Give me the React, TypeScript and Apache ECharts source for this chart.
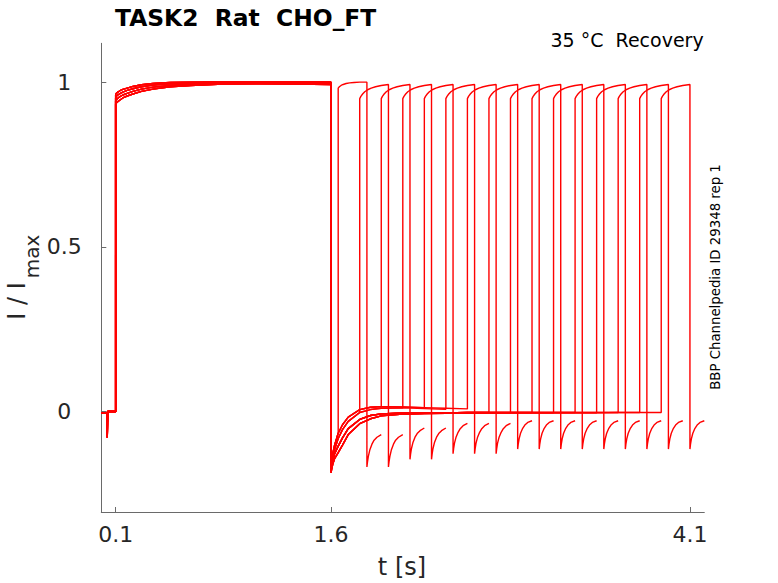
import React, { useEffect, useRef } from "react";
import * as echarts from "echarts";

// ---- axis ticks ----
const xTicks = [0.1, 1.6, 4.1];
const yTicks = [0, 0.5, 1];

// ---- protocol timing ----
const pulseStarts = [1.65, 1.8, 1.95, 2.1, 2.25, 2.4, 2.55, 2.7, 2.85, 3.0, 3.15, 3.3, 3.45, 3.6, 3.75, 3.9];
const stepOff = 1.6;

// ---- pre-pulse segment (0 .. 0.1 s), two slightly shifted spikes ----
const preTA = [0, 0.039, 0.0395, 0.0435, 0.1];
const preTB = [0, 0.041, 0.0415, 0.0455, 0.1];
const preV = [-0.004, -0.004, -0.078, 0.0, 0.0];

// ---- activation segment (0.1 .. 1.6 s) ----
const actT = [0.1, 0.105, 0.115, 0.13, 0.15, 0.18, 0.22, 0.28, 0.36, 0.48, 0.62, 0.85, 1.1, 1.35, 1.6];
const actA = [0.963, 0.966, 0.97, 0.974, 0.978, 0.982, 0.987, 0.992, 0.996, 0.999, 1.0, 1.001, 1.001, 1.001, 1.0];
const actB = [0.954, 0.957, 0.961, 0.965, 0.97, 0.975, 0.98, 0.986, 0.991, 0.995, 0.998, 1.0, 1.0, 1.0, 0.999];
const actC = [0.944, 0.947, 0.951, 0.956, 0.961, 0.966, 0.972, 0.979, 0.985, 0.99, 0.994, 0.997, 0.998, 0.997, 0.996];
const actD = [0.934, 0.937, 0.941, 0.946, 0.952, 0.958, 0.964, 0.972, 0.979, 0.986, 0.99, 0.994, 0.995, 0.994, 0.993];

// ---- tail after 1.6 s (offsets from 1.6 s) ----
const tailT = [0, 0.004, 0.012, 0.025, 0.05, 0.08, 0.12, 0.2, 0.275, 0.35, 0.5, 0.65, 0.8, 0.95, 1.1, 1.25, 1.4, 1.55, 1.7, 1.85, 2.0, 2.15, 2.3];
const tailA = [-0.165, -0.15, -0.128, -0.102, -0.066, -0.04, -0.017, 0.006, 0.013, 0.015, 0.014, 0.012, 0.01, 0.008, 0.006, 0.004, 0.003, 0.002, 0.001, 0.0, -0.001, -0.002, -0.002];
const tailB = [-0.172, -0.159, -0.138, -0.115, -0.082, -0.055, -0.03, -0.003, 0.006, 0.01, 0.011, 0.009, 0.007, 0.005, 0.004, 0.002, 0.001, 0.0, -0.001, -0.001, -0.002, -0.002, -0.003];
const tailC = [-0.178, -0.167, -0.149, -0.128, -0.105, -0.08, -0.052, -0.024, -0.012, -0.007, -0.004, -0.004, -0.004, -0.003, -0.003, -0.003, -0.003, -0.003, -0.003, -0.003, -0.003, -0.003, -0.003];
const tailD = [-0.186, -0.176, -0.16, -0.143, -0.125, -0.102, -0.07, -0.037, -0.022, -0.013, -0.008, -0.006, -0.005, -0.005, -0.004, -0.004, -0.004, -0.004, -0.004, -0.004, -0.003, -0.003, -0.003];

// ---- test pulse (offsets from pulse start) ----
const pulseT = [0, 0.008, 0.02, 0.035, 0.055, 0.08, 0.11, 0.15, 0.2];
const pulseFirst = [0.982, 0.986, 0.99, 0.993, 0.996, 0.998, 0.999, 1.0, 1.0];
const pulseLater = [0.95, 0.957, 0.964, 0.971, 0.977, 0.982, 0.986, 0.99, 0.993];

// ---- hook after test pulse (offsets from pulse start) ----
const hookT = [0.2, 0.204, 0.21, 0.22, 0.235, 0.25, 0.27, 0.3];
const hook0 = [-0.168, -0.153, -0.136, -0.117, -0.099, -0.087, -0.078, -0.07];
const hook1 = [-0.145, -0.13, -0.113, -0.095, -0.078, -0.067, -0.058, -0.05];
const hook2 = [-0.128, -0.113, -0.096, -0.079, -0.063, -0.052, -0.043, -0.036];
const hook3 = [-0.114, -0.099, -0.083, -0.066, -0.051, -0.041, -0.033, -0.028];

// ---- which curve each sweep follows ----
const preIdx = [0, 1, 0, 1, 0, 1, 0, 1, 0, 1, 0, 1, 0, 1, 0, 1];
const actIdx = [0, 2, 1, 3, 0, 2, 1, 3, 0, 2, 1, 3, 0, 2, 1, 3];
const tailIdx = [0, 1, 0, 1, 0, 1, 0, 2, 3, 2, 3, 2, 3, 2, 3, 2];
const pulseIdx = [0, 1, 1, 1, 1, 1, 1, 1, 1, 1, 1, 1, 1, 1, 1, 1];
const hookIdx = [0, 0, 1, 1, 2, 2, 2, 3, 3, 3, 3, 3, 3, 3, 3, 3];

const preSets = [preTA, preTB];
const actSets = [actA, actB, actC, actD];
const tailSets = [tailA, tailB, tailC, tailD];
const pulseSets = [pulseFirst, pulseLater];
const hookSets = [hook0, hook1, hook2, hook3];

function buildSweep(k: number): number[][] {
  const pts: number[][] = [];
  preSets[preIdx[k]].forEach((t, i) => pts.push([t, preV[i]]));
  const act = actSets[actIdx[k]];
  actT.forEach((t, i) => pts.push([t, act[i]]));
  const ps = pulseStarts[k];
  const tail = tailSets[tailIdx[k]];
  tailT.forEach((dt, i) => {
    if (stepOff + dt <= ps + 1e-9) pts.push([stepOff + dt, tail[i]]);
  });
  const pulse = pulseSets[pulseIdx[k]];
  pulseT.forEach((dt, i) => pts.push([ps + dt, pulse[i]]));
  const hook = hookSets[hookIdx[k]];
  hookT.forEach((dt, i) => pts.push([ps + dt, hook[i]]));
  return pts;
}

const FONT = "'DejaVu Sans', 'Noto Sans', sans-serif";
const AXIS_COL = "#6a6a6a";
const TEXT_COL = "#262626";

export default function App() {
  const ref = useRef<HTMLDivElement>(null);
  useEffect(() => {
    if (!ref.current) return;
    const chart = echarts.init(ref.current, null, { renderer: "svg" });
    const series = pulseStarts.map((_, k) => ({
      type: "line",
      data: buildSweep(k),
      showSymbol: false,
      symbol: "none",
      lineStyle: { color: "#ff0000", width: 1.4 },
      silent: true,
    }));
    chart.setOption({
      animation: false,
      backgroundColor: "#ffffff",
      grid: { left: 101.3, right: 73.7, top: 43.3, bottom: 71 },
      xAxis: {
        type: "value",
        min: 0,
        max: 4.2,
        splitLine: { show: false },
        axisLine: { show: true, onZero: false, lineStyle: { color: AXIS_COL, width: 1 } },
        axisTick: { show: true, inside: true, length: 5, customValues: xTicks, lineStyle: { color: AXIS_COL } },
        axisLabel: {
          customValues: xTicks,
          fontFamily: FONT,
          fontSize: 22,
          color: TEXT_COL,
          margin: 22,
          verticalAlign: "middle",
          formatter: (v: number) => String(v),
        },
      },
      yAxis: {
        type: "value",
        min: -0.305,
        max: 1.118,
        splitLine: { show: false },
        axisLine: { show: true, onZero: false, lineStyle: { color: AXIS_COL, width: 1 } },
        axisTick: { show: true, inside: true, length: 5, customValues: yTicks, lineStyle: { color: AXIS_COL } },
        axisLabel: {
          customValues: yTicks,
          fontFamily: FONT,
          fontSize: 22,
          color: TEXT_COL,
          margin: 37,
          align: "center",
          formatter: (v: number) => String(v),
        },
      },
      graphic: [
        {
          type: "text",
          x: 115,
          y: 17.5,
          style: {
            text: "TASK2  Rat  CHO_FT",
            font: `bold 23.4px ${FONT}`,
            fill: "#000000",
            align: "left",
            verticalAlign: "middle",
          },
        },
        {
          type: "text",
          x: 550.5,
          y: 40,
          style: {
            text: "35 °C  Recovery",
            font: `19px ${FONT}`,
            fill: "#000000",
            align: "left",
            verticalAlign: "middle",
          },
        },
        {
          type: "text",
          x: 402,
          y: 567,
          style: {
            text: "t [s]",
            font: `24px ${FONT}`,
            fill: TEXT_COL,
            align: "center",
            verticalAlign: "middle",
          },
        },
        {
          type: "text",
          x: 17,
          y: 301,
          rotation: Math.PI / 2,
          style: {
            text: "I / I",
            font: `24px ${FONT}`,
            fill: TEXT_COL,
            align: "center",
            verticalAlign: "middle",
          },
        },
        {
          type: "text",
          x: 32,
          y: 256.5,
          rotation: Math.PI / 2,
          style: {
            text: "max",
            font: `20px ${FONT}`,
            fill: TEXT_COL,
            align: "center",
            verticalAlign: "middle",
          },
        },
        {
          type: "text",
          x: 715.5,
          y: 277,
          rotation: Math.PI / 2,
          style: {
            text: "BBP Channelpedia ID 29348 rep 1",
            font: `13.3px ${FONT}`,
            fill: "#000000",
            align: "center",
            verticalAlign: "middle",
          },
        },
      ],
      series,
    });
    return () => chart.dispose();
  }, []);
  return (
    <div
      ref={ref}
      style={{ position: "fixed", left: 0, top: 0, width: 778, height: 583, background: "#fff" }}
    />
  );
}
